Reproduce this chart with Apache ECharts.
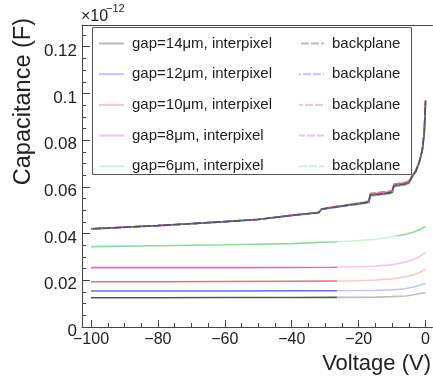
<!DOCTYPE html>
<html>
<head>
<meta charset="utf-8">
<script src="https://cdn.jsdelivr.net/npm/echarts@6/dist/echarts.min.js"></script>
<style>
  html, body { margin: 0; padding: 0; background: #fff; }
  #chart { width: 433px; height: 381px; }
</style>
</head>
<body>
<div id="chart"></div>
<script>
// Capacitance vs bias voltage, values in units of 1e-12 F
const gaps = ['14', '12', '10', '8', '6'];
const gapColors = ['#4f5a48', '#6b6be6', '#e87272', '#da66da', '#8cdd9c'];

// interpixel capacitance (solid lines)
const vInter = [-100, -80, -60, -40, -27, -20, -15, -10, -6, -4, -2, -1, 0];
const inter14 = [0.01255, 0.01255, 0.0126, 0.0126, 0.0127, 0.0127, 0.0128, 0.0130, 0.0133, 0.0137, 0.0142, 0.0145, 0.0147];
const inter12 = [0.0154, 0.0154, 0.0154, 0.0155, 0.0155, 0.0156, 0.0157, 0.0159, 0.0164, 0.0170, 0.0178, 0.0183, 0.0186];
const inter10 = [0.0194, 0.0194, 0.0195, 0.0196, 0.0197, 0.0198, 0.0201, 0.0206, 0.0215, 0.0222, 0.0232, 0.0240, 0.0246];
const inter8  = [0.0254, 0.0254, 0.0254, 0.0255, 0.0256, 0.0258, 0.0261, 0.0266, 0.0278, 0.0287, 0.0300, 0.0310, 0.0318];
const inter6  = [0.0344, 0.0348, 0.0352, 0.0357, 0.0365, 0.0370, 0.0376, 0.0385, 0.0397, 0.0405, 0.0415, 0.0423, 0.0430];

// backplane capacitance (dashed lines)
const vBack = [-100, -90, -80, -70, -60, -50, -40, -35, -32, -31, -25, -20, -17, -16.5, -12, -10, -9.5, -6, -5, -4, -3, -2, -1, -0.4, 0];
const back14 = [0.0420, 0.0427, 0.0434, 0.0442, 0.0451, 0.0460, 0.0478, 0.0485, 0.0489, 0.0505, 0.0518, 0.0528, 0.0535, 0.0565, 0.0572, 0.0577, 0.0605, 0.0613, 0.0618, 0.0645, 0.0665, 0.0700, 0.0755, 0.0830, 0.0970];
const back12 = [0.0421, 0.0428, 0.0434, 0.0443, 0.0451, 0.0461, 0.0478, 0.0486, 0.0490, 0.0504, 0.0517, 0.0527, 0.0534, 0.0563, 0.0570, 0.0576, 0.0603, 0.0611, 0.0617, 0.0643, 0.0663, 0.0698, 0.0752, 0.0826, 0.0965];
const back10 = [0.0420, 0.0427, 0.0435, 0.0443, 0.0452, 0.0461, 0.0479, 0.0486, 0.0491, 0.0507, 0.0520, 0.0531, 0.0539, 0.0572, 0.0580, 0.0584, 0.0612, 0.0620, 0.0625, 0.0650, 0.0670, 0.0703, 0.0758, 0.0833, 0.0972];
const back8  = [0.0419, 0.0427, 0.0434, 0.0442, 0.0451, 0.0460, 0.0477, 0.0485, 0.0489, 0.0505, 0.0519, 0.0529, 0.0537, 0.0568, 0.0576, 0.0581, 0.0609, 0.0617, 0.0622, 0.0647, 0.0667, 0.0701, 0.0756, 0.0831, 0.0968];
const back6  = [0.0420, 0.0427, 0.0434, 0.0442, 0.0450, 0.0460, 0.0478, 0.0485, 0.0489, 0.0504, 0.0516, 0.0525, 0.0531, 0.0560, 0.0567, 0.0572, 0.0600, 0.0608, 0.0614, 0.0641, 0.0662, 0.0697, 0.0751, 0.0824, 0.0962];

const interSets = [inter14, inter12, inter10, inter8, inter6];
const backSets = [back14, back12, back10, back8, back6];

const xTicks = [-100, -80, -60, -40, -20, 0];
const xMinorTicks = [-95, -90, -85, -75, -70, -65, -55, -50, -45, -35, -30, -25, -15, -10, -5];
const yTicks = [0, 0.02, 0.04, 0.06, 0.08, 0.1, 0.12];

const X_MIN = -102.7, X_MAX = 2.07;
const FONT = '"Liberation Sans", Arial, Helvetica, sans-serif';
const INK = '#222';
const AXIS = '#444';

const zip = (xs, ys) => xs.map((x, i) => [x, ys[i]]);
const interName = g => 'gap=' + g + '\u03bcm, interpixel';
const backName = g => 'bp' + g;

const series = [];
gaps.forEach((g, i) => {
  series.push({
    name: interName(g), type: 'line', symbol: 'none', z: 2, xAxisIndex: 0,
    data: zip(vInter, interSets[i]),
    lineStyle: { color: gapColors[i], width: 1.6, type: 'solid' },
    itemStyle: { color: gapColors[i] }
  });
});
// backplane curves overlap; the darkest one goes on top
[4, 3, 2, 1, 0].forEach((i, k) => {
  series.push({
    name: backName(gaps[i]), type: 'line', symbol: 'none', z: 2, xAxisIndex: 0,
    data: zip(vBack, backSets[i]),
    lineStyle: { color: gapColors[i], width: 1.6, type: [8, 2], dashOffset: k * 2 },
    itemStyle: { color: gapColors[i] }
  });
});
// washed-out patch near the low-voltage end
series.push({
  type: 'line', z: 3, silent: true, xAxisIndex: 0,
  symbol: 'none', lineStyle: { opacity: 0 },
  data: [[-26.5, 0.006]],
  markArea: {
    z: 10,
    silent: true,
    itemStyle: { color: 'rgba(255,255,255,0.62)' },
    data: [[{ coord: [-26.5, 0.006] }, { coord: [X_MAX, 0.039] }]]
  }
});

const legendCommon = {
  orient: 'vertical', top: 36, padding: 0,
  itemWidth: 25, itemHeight: 14, itemGap: 15.7,
  selectedMode: false,
  itemStyle: { opacity: 0 },
  lineStyle: { opacity: 0.4 },
  textStyle: { fontFamily: FONT, fontSize: 15, color: INK, lineHeight: 14, padding: [0, 0, 0, 3] }
};

const chart = echarts.init(document.getElementById('chart'), null, { renderer: 'canvas' });
chart.setOption({
  animation: false,
  backgroundColor: '#fff',
  grid: { left: 82, top: 25, right: 0, bottom: 54, show: false },
  xAxis: [{
    type: 'value', min: X_MIN, max: X_MAX, position: 'bottom',
    axisLine: { show: true, onZero: false, lineStyle: { color: AXIS, width: 1 } },
    axisTick: { show: true, inside: true, length: 7, customValues: xTicks, lineStyle: { color: AXIS } },
    axisLabel: {
      customValues: xTicks, margin: 5,
      fontFamily: FONT, fontSize: 16, color: INK,
      formatter: v => v < 0 ? '\u2212' + (-v) : String(v)
    },
    splitLine: { show: false }
  }, {
    type: 'value', min: X_MIN, max: X_MAX, position: 'bottom',
    axisLine: { show: false, onZero: false },
    axisTick: { show: true, inside: true, length: 4, customValues: xMinorTicks, lineStyle: { color: AXIS } },
    axisLabel: { show: false },
    splitLine: { show: false }
  }, {
    type: 'value', min: X_MIN, max: X_MAX, position: 'top',
    axisLine: { show: true, onZero: false, lineStyle: { color: AXIS, width: 1 } },
    axisTick: { show: false },
    axisLabel: { show: false },
    splitLine: { show: false }
  }],
  yAxis: {
    type: 'value', min: 0, max: 0.1293, interval: 0.02,
    axisLine: { show: true, onZero: false, lineStyle: { color: AXIS, width: 1 } },
    axisTick: { show: true, inside: true, length: 8, lineStyle: { color: AXIS } },
    minorTick: { show: true, splitNumber: 4, length: 4, lineStyle: { color: AXIS } },
    axisLabel: {
      margin: 5, fontFamily: FONT, fontSize: 17, color: INK,
      verticalAlign: 'top', lineHeight: 9,
      showMaxLabel: false,
      formatter: v => yTicks.some(t => Math.abs(t - v) < 1e-9) ? (v === 0 ? '0' : String(+v.toFixed(2))) : ''
    },
    splitLine: { show: false }
  },
  legend: [
    Object.assign({}, legendCommon, { left: 98, data: gaps.map(interName) }),
    Object.assign({}, legendCommon, { left: 298, data: gaps.map(backName), formatter: () => 'backplane' })
  ],
  graphic: [
    { type: 'rect', z: 3, silent: true,
      shape: { x: 92.5, y: 27.5, width: 319, height: 147 },
      style: { fill: '#fff', stroke: '#555', lineWidth: 1 } },
    { type: 'text', z: 5, x: 431, y: 364,
      style: { text: 'Voltage (V)', font: '22px ' + FONT, fill: INK, align: 'right', verticalAlign: 'middle' } },
    { type: 'text', z: 5, x: 24, y: 18, rotation: Math.PI / 2,
      style: { text: 'Capacitance (F)', font: '23.5px ' + FONT, fill: INK, align: 'right', verticalAlign: 'middle' } },
    { type: 'text', z: 5, x: 81, y: 17,
      style: { text: '\u00d710', font: '16px ' + FONT, fill: INK, align: 'left', verticalAlign: 'middle' } },
    { type: 'text', z: 5, x: 106, y: 9,
      style: { text: '\u221212', font: '11px ' + FONT, fill: INK, align: 'left', verticalAlign: 'middle' } }
  ],
  series: series
});
</script>
</body>
</html>
